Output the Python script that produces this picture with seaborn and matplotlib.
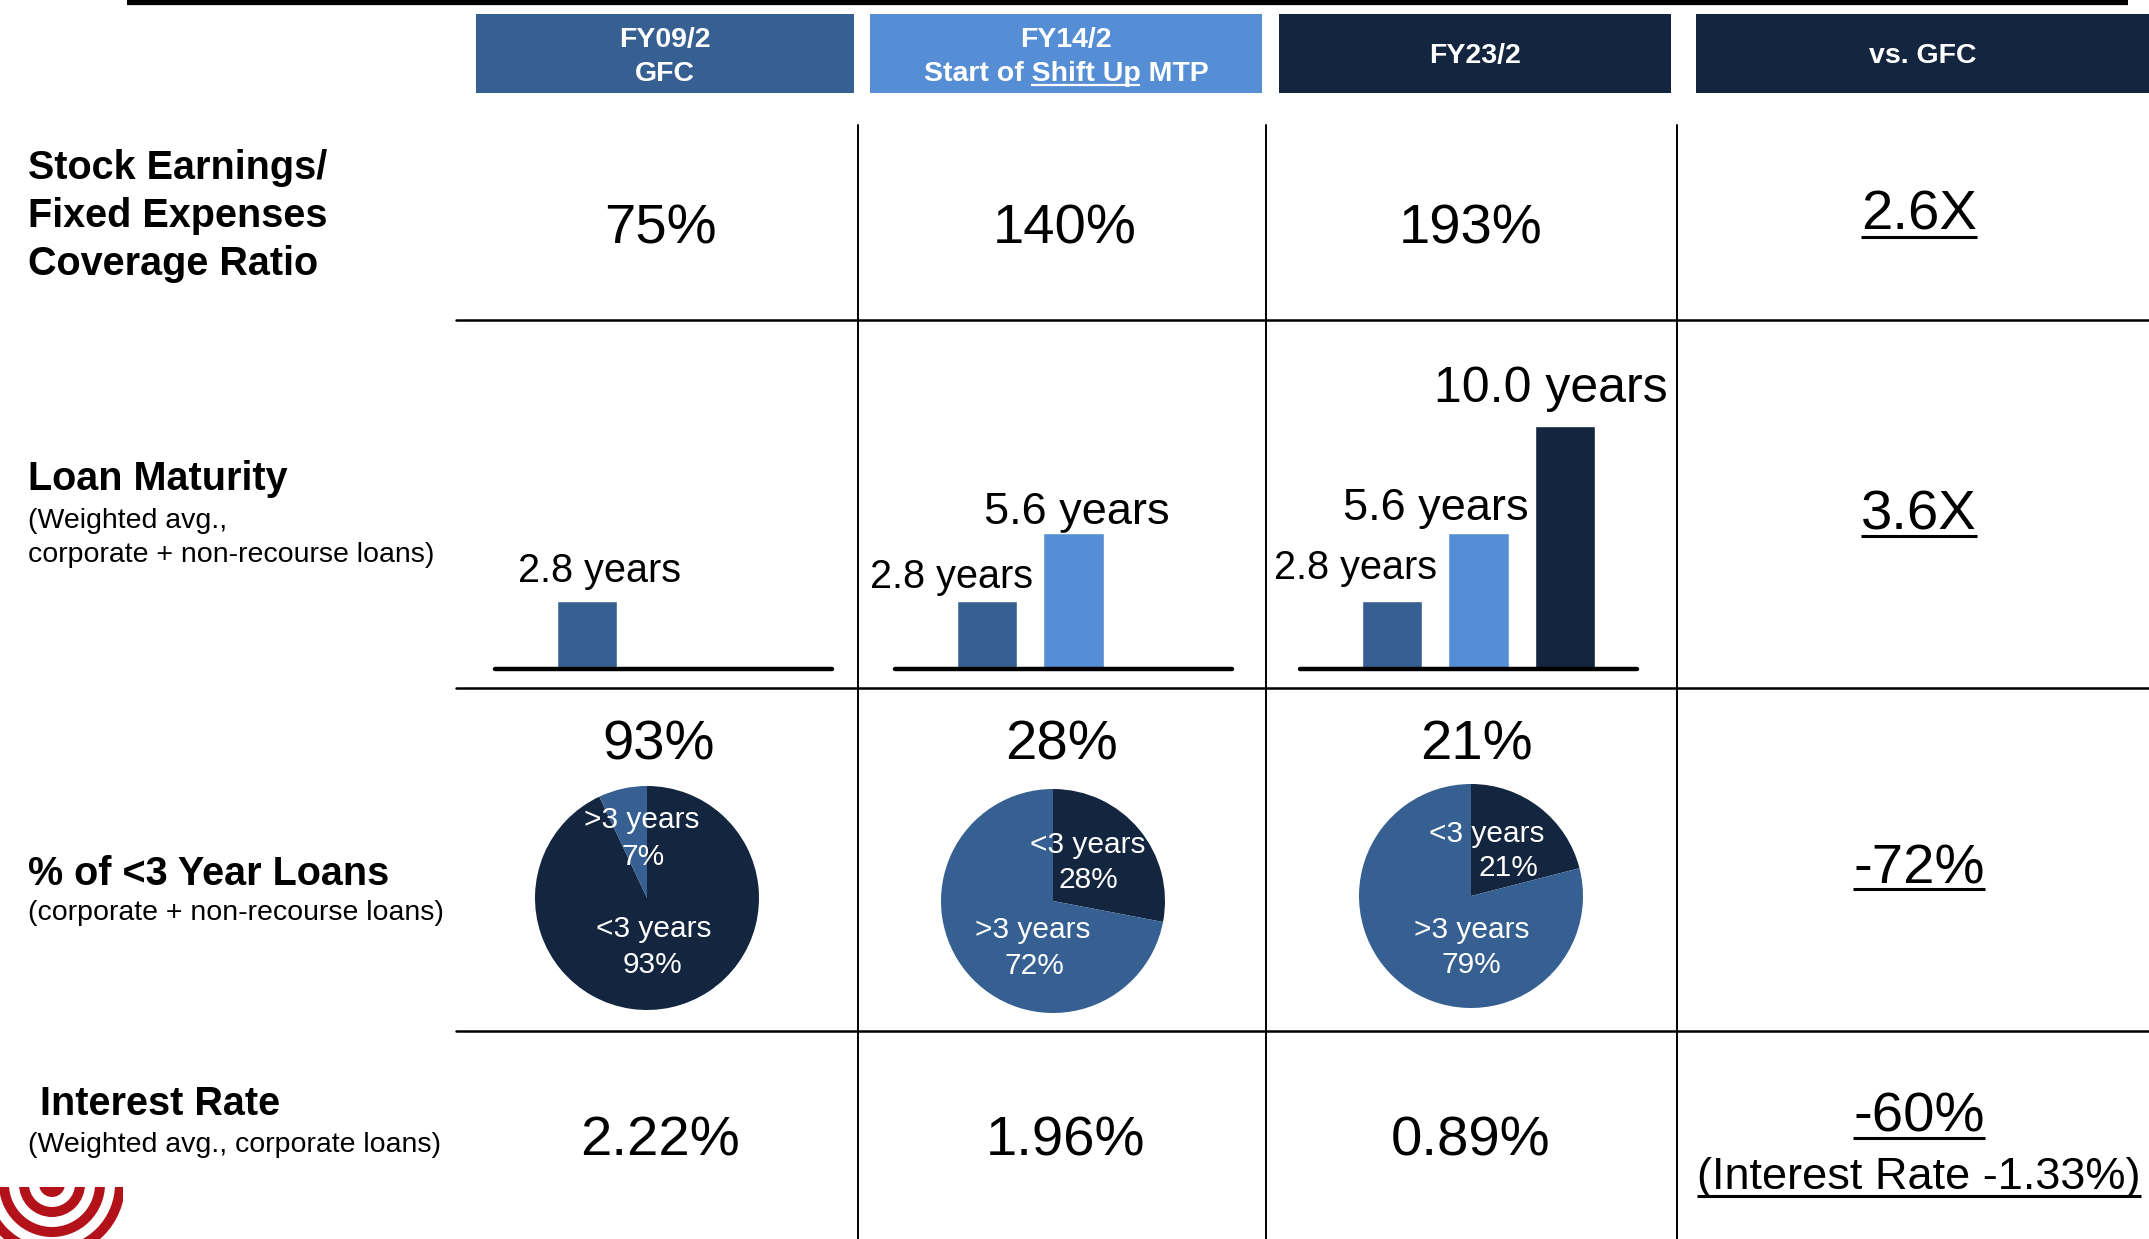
import matplotlib
matplotlib.use("Agg")
import matplotlib.pyplot as plt
import pandas as pd
import seaborn as sns
from matplotlib.patches import Rectangle, Circle

# ### data
periods = ['FY09/2', 'FY14/2', 'FY23/2']
period_notes = ['GFC', 'Start of Shift Up MTP', '']
coverage_pct = [75, 140, 193]
maturity_years = [2.8, 5.6, 10.0]
short_loan_pct = [93, 28, 21]   # <3 years
long_loan_pct = [7, 72, 79]     # >3 years
interest_pct = [2.22, 1.96, 0.89]
vs_gfc = ['2.6X', '3.6X', '-72%', '-60%']
vs_gfc_note = '(Interest Rate -1.33%)'

MID = '#376092'
LIGHT = '#558ED5'
NAVY = '#13253F'
RED = '#B3121B'
bar_palette = {'FY09/2': MID, 'FY14/2': LIGHT, 'FY23/2': NAVY}

W, H = 2149, 1239

sns.set_theme(style="white")
plt.rcParams['font.family'] = ['Liberation Sans', 'DejaVu Sans']

fig = plt.figure(figsize=(W / 100, H / 100), dpi=100)
bg = fig.add_axes([0, 0, 1, 1])
bg.set_xlim(0, W)
bg.set_ylim(H, 0)
bg.axis('off')
renderer = fig.canvas.get_renderer()


def px_axes(x0, y0, x1, y1):
    ax = fig.add_axes([x0 / W, 1 - y1 / H, (x1 - x0) / W, (y1 - y0) / H])
    ax.patch.set_alpha(0)
    return ax


def txt(x, y, s, size, bold=False, color='black', ha='center'):
    return bg.text(x, y, s, ha=ha, va='baseline', fontsize=size,
                   fontweight='bold' if bold else 'normal', color=color)


def underline(t, y, lw=2.2, color='black'):
    bb = t.get_window_extent(renderer)
    bg.plot([bb.x0, bb.x1], [y, y], color=color, lw=lw, solid_capstyle='butt')


# top rule
bg.plot([127, 2128], [2, 2], color='black', lw=4.5, solid_capstyle='butt')

# header boxes
boxes = [(476, 854, MID), (870, 1262, LIGHT), (1279, 1671, NAVY), (1696, 2149, NAVY)]
for x0, x1, c in boxes:
    bg.add_patch(Rectangle((x0, 14), x1 - x0, 79, color=c, lw=0))

hx = [(b[0] + b[1]) / 2 for b in boxes]
txt(hx[0], 47, periods[0], 20.5, True, 'white')
txt(hx[0], 81, period_notes[0], 20.5, True, 'white')
txt(hx[1], 47, periods[1], 20.5, True, 'white')
t_note = txt(hx[1], 81, period_notes[1], 20.5, True, 'white')
txt(hx[2], 63, periods[2], 20.5, True, 'white')
txt(hx[3], 63, 'vs. GFC', 20.5, True, 'white')

# underline "Shift Up" inside the header note
def width_of(s):
    tmp = bg.text(0, 0, s, fontsize=20.5, fontweight='bold')
    w = tmp.get_window_extent(renderer).width
    tmp.remove()
    return w

full_w = t_note.get_window_extent(renderer).width
left = hx[1] - full_w / 2
end = left + width_of('Start of Shift Up')
bg.plot([end - width_of('Shift Up'), end], [85, 85], color='white', lw=1.6,
        solid_capstyle='butt')

# grid lines
for x in [858, 1266, 1677]:
    bg.plot([x, x], [125, H], color='black', lw=1.4)
for y in [320, 688, 1031]:
    bg.plot([456, W], [y, y], color='black', lw=1.8)

# row labels
for s, y in zip(['Stock Earnings/', 'Fixed Expenses', 'Coverage Ratio'], [179, 227, 275]):
    txt(28, y, s, 28.5, True, ha='left')
txt(28, 490, 'Loan Maturity', 28.5, True, ha='left')
txt(28, 528, '(Weighted avg.,', 20.5, ha='left')
txt(28, 562, 'corporate + non-recourse loans)', 20.5, ha='left')
txt(28, 885, '% of <3 Year Loans', 28.5, True, ha='left')
txt(28, 920, '(corporate + non-recourse loans)', 20.5, ha='left')
txt(40, 1115, 'Interest Rate', 28.5, True, ha='left')
txt(28, 1152, '(Weighted avg., corporate loans)', 20.5, ha='left')

col_x = [660, 1065, 1471]
VX = 1919

# row 1: coverage ratio
for x, v in zip(col_x, coverage_pct):
    txt(x, 243, f'{v}%', 40.5)
underline(txt(VX, 230, vs_gfc[0], 40.5), 237)

# row 2: loan maturity bars
panels = [(495, 832), (895, 1232), (1300, 1637)]
slot = 86.5
px_per_year = 24.3
bar_label_pos = [[(600, 582, 28.5)],
                 [(951, 588, 28.5), (1077, 524, 32.5)],
                 [(1356, 579, 28.5), (1436, 520, 32.5), (1551, 402, 36)]]
for i, (x0, x1) in enumerate(panels):
    ax = px_axes(x0, 269, x1, 669)
    df = pd.DataFrame({'period': periods[:i + 1], 'years': maturity_years[:i + 1]})
    sns.barplot(data=df, x='period', y='years', hue='period', palette=bar_palette,
                order=periods, hue_order=periods, width=0.705, saturation=1,
                legend=False, ax=ax)
    ax.set_xlim(-92 / slot, (x1 - x0 - 92) / slot)
    ax.set_ylim(0, 400 / px_per_year)
    ax.axhline(0, color='black', lw=3.2, zorder=5, clip_on=False)
    ax.axis('off')
    for (lx, ly, ls), v in zip(bar_label_pos[i], maturity_years):
        txt(lx, ly, f'{v:.1f} years', ls)
underline(txt(VX, 529, vs_gfc[1], 40.5), 536)

# row 3: share of <3 year loans
pie_centers = [(647, 898), (1053, 901), (1471, 896)]
R = 112
top_pct_x = [659, 1062, 1476]
pie_label_pos = [
    {'lt': (654, 937, 653, 973), 'gt': (642, 828, 643, 865)},
    {'lt': (1088, 853, 1088, 888), 'gt': (1033, 938, 1034, 974)},
    {'lt': (1487, 842, 1508, 876), 'gt': (1472, 938, 1471, 973)},
]
for i, (cx, cy) in enumerate(pie_centers):
    txt(top_pct_x[i], 759, f'{short_loan_pct[i]}%', 40.5)
    ax = px_axes(cx - R, cy - R, cx + R, cy + R)
    ax.pie([short_loan_pct[i], long_loan_pct[i]], colors=[NAVY, MID], startangle=90,
           counterclock=False, radius=1, wedgeprops=dict(linewidth=0))
    ax.set_xlim(-1, 1)
    ax.set_ylim(-1, 1)
    lp = pie_label_pos[i]
    labels = [('lt', '<3 years', short_loan_pct[i]), ('gt', '>3 years', long_loan_pct[i])]
    for key, name, pct in labels:
        x1, y1, x2, y2 = lp[key]
        for lx, ly, s in [(x1, y1, name), (x2, y2, f'{pct}%')]:
            ax.text((lx - cx) / R, -(ly - cy) / R, s, ha='center', va='baseline',
                    fontsize=21.5, color='white', clip_on=False)
underline(txt(VX, 883, vs_gfc[2], 40.5), 889)

# row 4: interest rate
for x, v in zip(col_x, interest_pct):
    txt(x, 1156, f'{v:.2f}%', 40.5)
underline(txt(VX, 1131, vs_gfc[3], 40.5), 1138)
underline(txt(1919, 1189, vs_gfc_note, 32.5), 1196)

# logo in the corner
clip = Rectangle((0, 1187), 123, 52, transform=bg.transData)
for k, r in enumerate([73, 63, 53, 43, 33, 23, 13]):
    c = Circle((52, 1184), r, color=RED if k % 2 == 0 else 'white', lw=0)
    bg.add_patch(c)
    c.set_clip_path(clip)

plt.savefig("out.png", dpi=100)
